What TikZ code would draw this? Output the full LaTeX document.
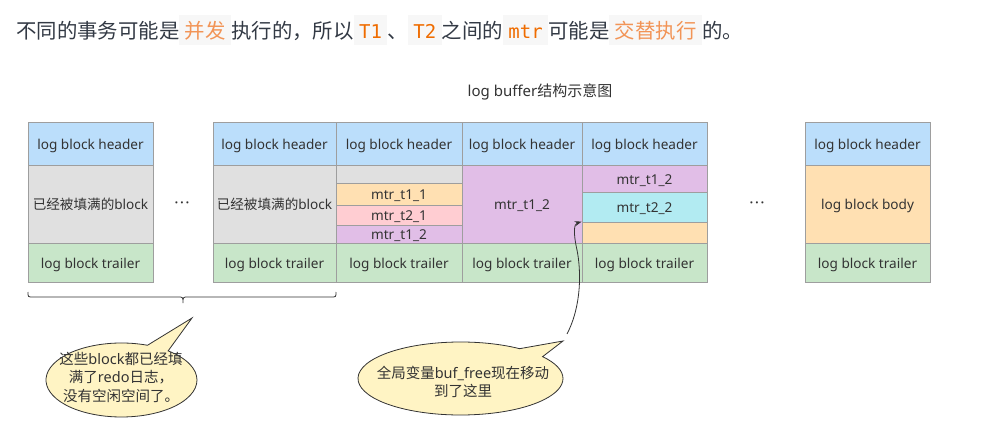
\documentclass[tikz,border=0pt]{standalone}
\usepackage{fontspec}
\setmainfont{Noto Sans}
\newfontfamily\cjk{Noto Sans CJK SC}
\newfontfamily\codefont{DejaVu Sans Mono}
\usetikzlibrary{shapes.callouts,arrows.meta}
\definecolor{hdr}{HTML}{BBDEFB}
\definecolor{grayb}{HTML}{E0E0E0}
\definecolor{trl}{HTML}{C8E6C9}
\definecolor{orng}{HTML}{FFE0B2}
\definecolor{pnk}{HTML}{FFCDD2}
\definecolor{prp}{HTML}{E1BEE7}
\definecolor{cyn}{HTML}{B2EBF2}
\definecolor{bordc}{HTML}{9E9E9E}
\definecolor{txtc}{HTML}{333333}
\definecolor{titlec}{HTML}{333A45}
\definecolor{codebg}{HTML}{F7F7F7}
\definecolor{hlc}{HTML}{F29456}
\definecolor{codec}{HTML}{EF6C00}
\definecolor{bubfill}{HTML}{FFF4C4}
\newcommand\hlb[2]{{\setlength\fboxsep{0pt}\colorbox{codebg}{\hspace{5.5pt}\rule[-6pt]{0pt}{30pt}\textcolor{#1}{#2}\hspace{5.5pt}}}}
\newcommand\cellb[7]{\node[cell,fill=#6,minimum width={(#4-#2)*1pt},minimum height={(#5-#3)*1pt}] (#1) at ({(#2+#4)/2},{(#3+#5)/2}) {#7};}
\tikzset{
  cell/.style={draw=bordc, line width=0.8pt, inner sep=0pt, text=txtc,
    font=\fontsize{13.6}{16}\selectfont, text height=13.5pt, text depth=2pt},
  bubble/.style={ellipse callout, draw=txtc, line width=0.8pt, fill=bubfill, inner sep=0pt, callout pointer arc=18},
  bubtext/.style={align=center, text=txtc, font=\fontsize{14.5}{18.5}\selectfont, inner sep=0pt},
  dots/.style={text=txtc, font=\fontsize{16}{16}\selectfont\bfseries, inner sep=0pt},
  arrowc/.style={draw=txtc, line width=0.8pt, -{Stealth[length=7pt,width=5pt]}},
  bracec/.style={draw=txtc, line width=0.8pt}
}
\begin{document}
\begin{tikzpicture}[x=1pt,y=-1pt]
\fill[white] (0,0) rectangle (1004,425);
\useasboundingbox (0,0) rectangle (1004,425);
% title line
\node[anchor=west, inner sep=0pt, text=titlec, font=\fontsize{20.4}{24}\selectfont\cjk] (title) at (16,30)
 {不同的事务可能是\hlb{hlc}{并发}执行的，所以\hlb{codec}{\codefont\fontsize{19}{24}\selectfont T1}、\hlb{codec}{\codefont\fontsize{19}{24}\selectfont T2}之间的\hlb{codec}{\codefont\fontsize{19}{24}\selectfont mtr}可能是\hlb{hlc}{交替执行}的。};
\node[text=txtc, font=\fontsize{15}{18}\selectfont, inner sep=0pt] (cap) at (540,92) {log buffer{\cjk 结构示意图}};
% block 1
\cellb{h1}{28}{122}{153}{165}{hdr}{log block header}
\cellb{g1}{28}{165}{153}{243}{grayb}{{\cjk 已经被填满的}block}
\cellb{t1}{28}{243}{153}{282}{trl}{log block trailer}
% block 2
\cellb{h2}{213}{122}{336}{165}{hdr}{log block header}
\cellb{g2}{213}{165}{336}{243}{grayb}{{\cjk 已经被填满的}block}
\cellb{t2}{213}{243}{336}{282}{trl}{log block trailer}
% block 3
\cellb{h3}{336}{122}{462}{165}{hdr}{log block header}
\cellb{b3a}{336}{165}{462}{183}{grayb}{}
\cellb{b3b}{336}{183}{462}{205}{orng}{mtr\_t1\_1}
\cellb{b3c}{336}{205}{462}{225}{pnk}{mtr\_t2\_1}
\cellb{b3d}{336}{225}{462}{243}{prp}{mtr\_t1\_2}
\cellb{t3}{336}{243}{462}{282}{trl}{log block trailer}
% block 4
\cellb{h4}{462}{122}{582}{165}{hdr}{log block header}
\cellb{b4}{462}{165}{582}{243}{prp}{mtr\_t1\_2}
\cellb{t4}{462}{243}{582}{282}{trl}{log block trailer}
% block 5
\cellb{h5}{582}{122}{707}{165}{hdr}{log block header}
\cellb{b5a}{582}{165}{707}{192}{prp}{mtr\_t1\_2}
\cellb{b5b}{582}{192}{707}{222}{cyn}{mtr\_t2\_2}
\cellb{b5c}{582}{222}{707}{243}{orng}{}
\cellb{t5}{582}{243}{707}{282}{trl}{log block trailer}
% block 6
\cellb{h6}{805}{122}{930}{165}{hdr}{log block header}
\cellb{b6}{805}{165}{930}{243}{orng}{log block body}
\cellb{t6}{805}{243}{930}{282}{trl}{log block trailer}
% dots
\node[dots] (d1) at (182,205) {·\kern1.2pt·\kern1.2pt·};
\node[dots] (d2) at (757,205) {·\kern1.2pt·\kern1.2pt·};
% brace
\draw[bracec] (28,292) .. controls (28,297) .. (33,297) -- (178,297) .. controls (183,297) .. (183,303)
  .. controls (183,297) .. (188,297) -- (331,297) .. controls (336,297) .. (336,292);
% bubbles
\node[bubble, minimum width=151pt, minimum height=74pt, callout absolute pointer={(192,318)}] (c1) at (121.5,380) {};
\node[bubtext] (c1t) at (121,377) {{\cjk 这些}block{\cjk 都已经填}\\{\cjk 满了}redo{\cjk 日志，}\\{\cjk 没有空闲空间了。}};
\node[bubble, minimum width=205pt, minimum height=73pt, callout absolute pointer={(563,341)}] (c2) at (460.5,378.5) {};
\node[bubtext] (c2t) at (463,382) {{\cjk 全局变量}buf\_free{\cjk 现在移动}\\{\cjk 到了这里}};
% arrow
\coordinate (astart) at (567,334);
\draw[arrowc] (astart) .. controls (582,305) and (581,270) .. (577,250) .. controls (573,232) and (574,224) .. (b5c.north west);
\end{tikzpicture}
\end{document}
